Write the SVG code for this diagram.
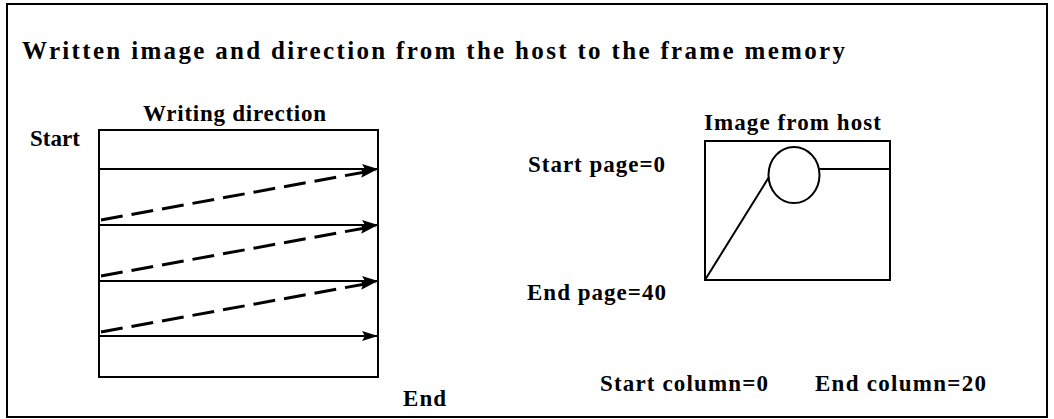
<svg xmlns="http://www.w3.org/2000/svg" width="1054" height="419" viewBox="0 0 1054 419">
<style>
text{font-family:"Liberation Serif","Times New Roman",serif;font-weight:bold;fill:#000;font-size:23px}
.t{font-size:25px}
.ln{stroke:#000;stroke-width:2;fill:none}
.dash{stroke:#000;stroke-width:3;fill:none;stroke-dasharray:22 9}
</style>
<defs>
<marker id="ah" markerWidth="16" markerHeight="10" refX="16" refY="5" orient="auto" markerUnits="userSpaceOnUse">
<path d="M0,0 L16,5 L0,10 L3,5 Z" fill="#000"/>
</marker>
</defs>
<rect x="0" y="0" width="1054" height="419" fill="#fff"/>
<rect id="frame" x="7" y="4" width="1040" height="413" class="ln"/>
<g id="title"><text class="t" x="22" y="59" textLength="823" lengthAdjust="spacing">Written image and direction from the host to the frame memory</text></g>
<g id="memory">
<text x="143" y="121" textLength="183" lengthAdjust="spacing">Writing  direction</text>
<text x="30" y="146" textLength="50" lengthAdjust="spacing">Start</text>
<rect x="99" y="130" width="279" height="247" class="ln"/>
<text x="403" y="406" textLength="43" lengthAdjust="spacing">End</text>
</g>
<g id="connectors">
<line x1="99" y1="169" x2="378" y2="169" class="ln" marker-end="url(#ah)"/>
<line x1="99" y1="225" x2="378" y2="225" class="ln" marker-end="url(#ah)"/>
<line x1="99" y1="281" x2="378" y2="281" class="ln" marker-end="url(#ah)"/>
<line x1="99" y1="336" x2="378" y2="336" class="ln" marker-end="url(#ah)"/>
<line x1="101" y1="220" x2="376" y2="170" class="dash" marker-end="url(#ah)"/>
<line x1="101" y1="276" x2="376" y2="226" class="dash" marker-end="url(#ah)"/>
<line x1="101" y1="332" x2="376" y2="282" class="dash" marker-end="url(#ah)"/>
</g>
<g id="image">
<text x="704" y="130" textLength="177" lengthAdjust="spacing">Image  from  host</text>
<rect x="705" y="141" width="185" height="139" class="ln"/>
<ellipse cx="794" cy="175" rx="25.5" ry="28" class="ln"/>
<line x1="819" y1="169" x2="890" y2="169" class="ln"/>
<line x1="705" y1="280" x2="769" y2="177" class="ln"/>
</g>
<g id="labels">
<text x="528" y="172" textLength="137" lengthAdjust="spacing">Start  page=0</text>
<text x="527" y="300" textLength="139" lengthAdjust="spacing">End  page=40</text>
<text x="600" y="391" textLength="168" lengthAdjust="spacing">Start column=0</text>
<text x="815" y="391" textLength="171" lengthAdjust="spacing">End column=20</text>
</g>
</svg>
